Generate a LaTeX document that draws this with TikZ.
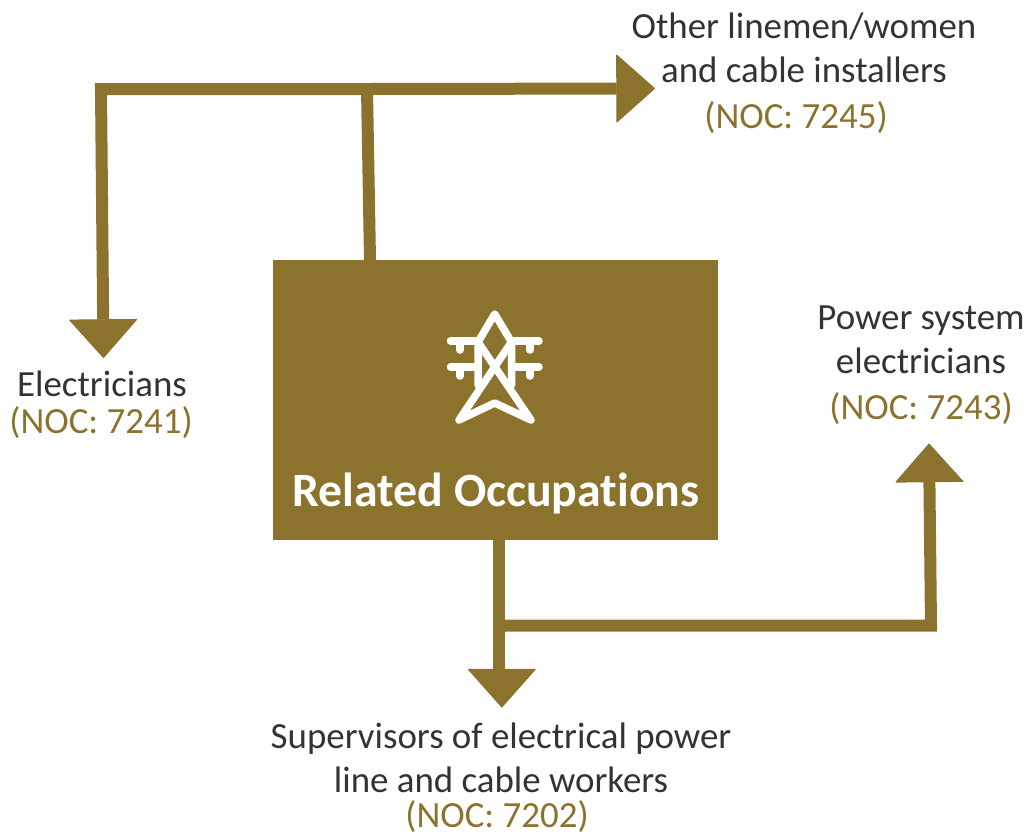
\documentclass[tikz,border=0pt]{standalone}
\usepackage{fontspec}
\setmainfont[Ligatures=NoCommon]{Carlito}
\usetikzlibrary{arrows.meta}
\definecolor{gold}{HTML}{8B732D}
\definecolor{inktext}{HTML}{333333}
\tikzset{
  flow/.style={gold,line width=0.24cm,line join=miter},
  flowtip/.style={flow,-{Triangle[width=1.38cm,length=0.78cm,round,line width=0.02cm]}},
  occlabel/.style={inktext,font=\fontsize{21}{25}\selectfont,align=center,inner sep=0},
  noclabel/.style={gold,font=\fontsize{21}{25}\selectfont,inner sep=0},
  tower/.style={white,line width=0.15cm,line cap=round,line join=round}
}
\begin{document}
\begin{tikzpicture}[x=0.02cm,y=-0.02cm]
  \useasboundingbox (0,0) rectangle (1028,836);
  \node[fill=gold,minimum width=8.9cm,minimum height=5.6cm,inner sep=0] (box) at (495.5,400) {};
  \node[white,font=\fontsize{27.2}{30}\selectfont\bfseries,inner sep=0] (title) at (496,493) {Related Occupations};
  % tower
  \draw[tower] (478,385) -- (478,342) -- (494.7,314) -- (511.5,342) -- (511.5,385);
  \draw[tower] (478,342) -- (531,420) -- (494.7,403) -- (459,420) -- (511.5,342);
  \foreach \y in {341,367} {
    \draw[tower] (450.5,\y) -- (478,\y);
    \draw[tower] (511.5,\y) -- (539,\y);
    \draw[tower] (460,\y) -- (460,\y+9);
    \draw[tower] (530,\y) -- (530,\y+9);
  }
  % free ends
  \coordinate (topjoin) at (367,89);
  \coordinate (topleft) at (101,89);
  \coordinate (lefttip) at (103.5,358);
  \coordinate (righttip) at (655,88.5);
  \coordinate (lowjoin) at (499,625.5);
  \coordinate (lowright) at (931,625.5);
  \coordinate (uptip) at (929,443.5);
  \coordinate (downbase) at (501.8,668.5);
  \coordinate (downend) at (499,672);
  \coordinate (downtip) at (501.8,707.5);
  \draw[flow] (370,260) -- (topjoin);
  \draw[flowtip] (topjoin) -- (righttip);
  \draw[flowtip] (topjoin) -- (topleft) -- (lefttip);
  \draw[flow] (499,540) -- (downend);
  \draw[flowtip] (downbase) -- (downtip);
  \draw[flowtip] (lowjoin) -- (lowright) -- (uptip);
  % labels
  \node[occlabel] (linemen) at (804,47.5) {Other linemen/women\\and cable installers};
  \node[noclabel] (linemennoc) at (796,118) {(NOC: 7245)};
  \node[occlabel] (electricians) at (102,384) {Electricians};
  \node[noclabel] (electriciansnoc) at (101,423) {(NOC: 7241)};
  \node[occlabel] (power) at (921,340) {Power system\\electricians};
  \node[noclabel] (powernoc) at (921,409) {(NOC: 7243)};
  \node[occlabel] (supervisors) at (501,758) {Supervisors of electrical power\\line and cable workers};
  \node[noclabel] (supervisorsnoc) at (497,817) {(NOC: 7202)};
\end{tikzpicture}
\end{document}
